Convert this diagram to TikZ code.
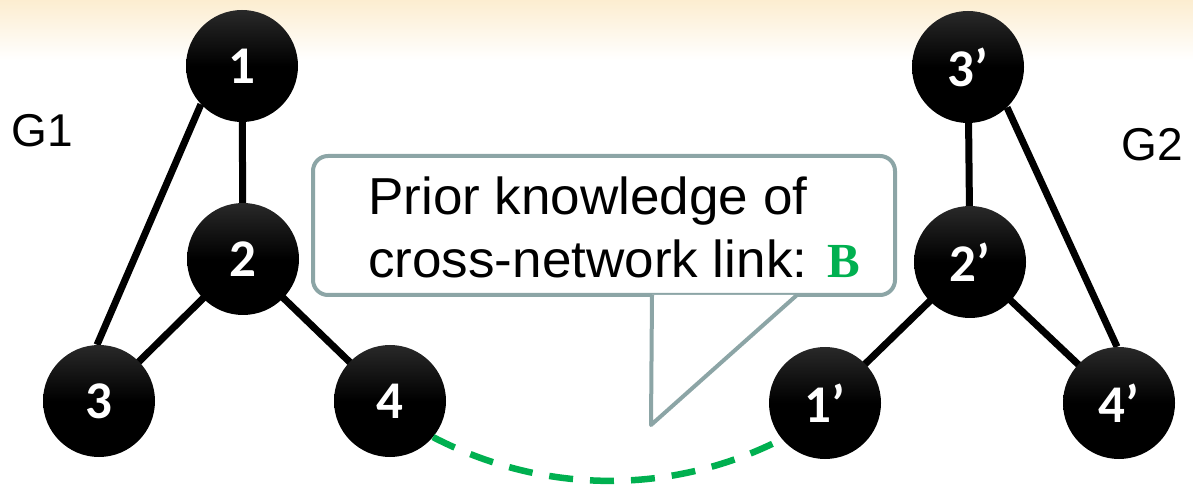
\documentclass[tikz,border=0pt]{standalone}
\usepackage{fontspec}
\setmainfont{Liberation Sans}
\newfontfamily\numfont{Carlito}
\newfontfamily\callfont[FakeStretch=1.02]{Liberation Sans}
\newfontfamily\bfserif{Liberation Serif}
\usetikzlibrary{calc,backgrounds}
\definecolor{linkgreen}{RGB}{0,176,80}
\definecolor{bubblegray}{RGB}{140,165,166}
\definecolor{peach}{RGB}{252,237,208}

\begin{document}
\begin{tikzpicture}[x=1pt,y=1pt,
  vertex/.style={circle, minimum size=112pt, inner sep=0pt,
    top color=black!84!white, bottom color=black, middle color=black,
    text=white, font=\numfont\bfseries\fontsize{53}{53}\selectfont},
  edge/.style={line width=7pt, black},
  crosslink/.style={line width=6.5pt, linkgreen, dash pattern=on 24pt off 17pt},
  glabel/.style={inner sep=0pt, font=\fontsize{46}{46}\selectfont},
  bubble/.style={draw=bubblegray, line width=4pt, rounded corners=15pt, fill=white,
    minimum width=582pt, minimum height=139pt, inner sep=0pt},
  tailline/.style={draw=bubblegray, line width=4pt, line join=round},
  calltext/.style={anchor=base west, inner sep=0pt,
    font=\callfont\fontsize{52}{52}\selectfont}]

\useasboundingbox (0,0) rectangle (1193,490);

% soft band along the top edge
\begin{scope}[on background layer]
  \shade[top color=peach, bottom color=white] (0,430) rectangle (1193,490);
\end{scope}

% network G1
\node[vertex] (n1) at (242,424) {1};
\node[vertex] (n2) at (243,231) {2};
\node[vertex] (n3) at (99,89)   {3};
\node[vertex] (n4) at (390,89)  {4};

% network G2
\node[vertex] (n3p) at (968,423)  {3’};
\node[vertex] (n2p) at (970,228)  {2’};
\node[vertex] (n1p) at (825,87)   {1’};
\node[vertex] (n4p) at (1119,87)  {4’};

\begin{scope}[on background layer]
  \draw[edge] (n1.center) -- (n2.center);
  \draw[edge] (n2.center) -- (n3.center);
  \draw[edge] (n2.center) -- (n4.center);
  \draw[edge] (n1.223) -- (n3.92);
  \draw[edge] (n3p.center) -- (n2p.center);
  \draw[edge] (n2p.center) -- (n1p.center);
  \draw[edge] (n2p.center) -- (n4p.center);
  \draw[edge] (n3p.314) -- (n4p.92);
\end{scope}

\node[glabel] (g1) at (42,359) {G1};
\node[glabel] (g2) at (1152,345) {G2};

% speech bubble
\node[bubble] (callout) at (604,264.5) {};
\coordinate (tailL) at ($(callout.south)+(48,0)$);
\coordinate (tip)   at ($(callout.south)+(47,-128)$);
\coordinate (tailR) at ($(callout.south)+(193,0)$);
\fill[white] ($(tailL)+(0,2)$) -- (tip) -- ($(tailR)+(0,2)$) -- cycle;
\draw[tailline] ($(tailL)+(0,2)$) -- (tip) -- ($(tailR)+(0,2)$);

\node[calltext] (line1) at (368,275) {Prior knowledge of};
\node[calltext] (line2) at (368,212)
  {cross-network link: {\bfserif\bfseries\fontsize{49}{49}\selectfont\color{linkgreen}B}};

% known cross-network link
\draw[crosslink] (n4.-40) .. controls ($(n4.-40)+(112,-58)$)
  and ($(n1p.220)+(-110,-56)$) .. (n1p.220);

\end{tikzpicture}
\end{document}
